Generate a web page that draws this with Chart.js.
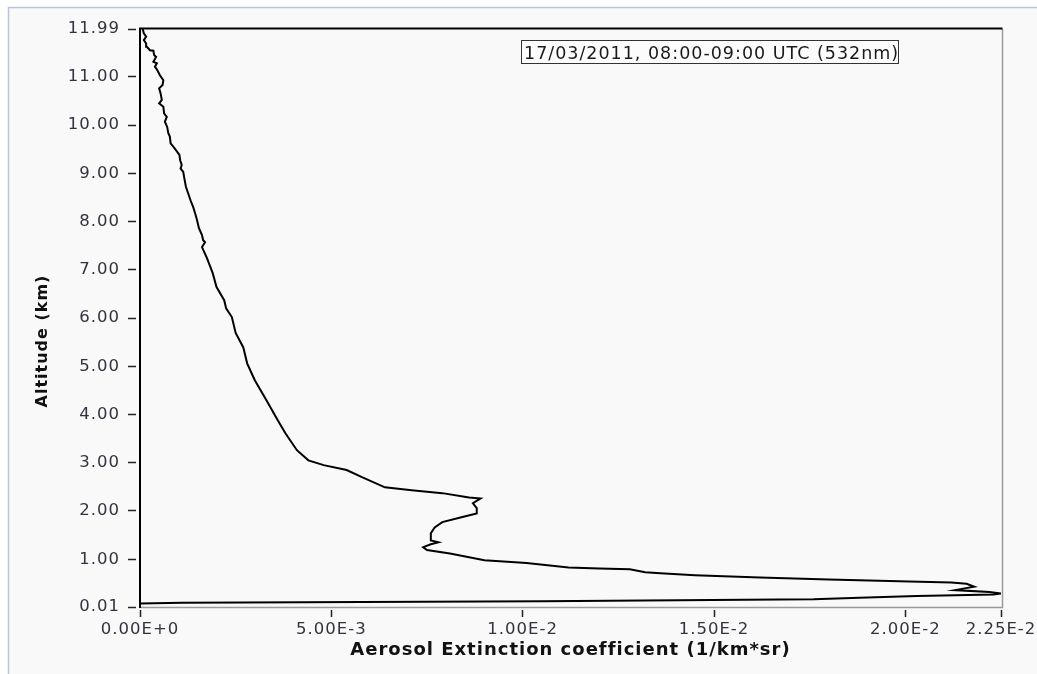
<!DOCTYPE html>
<html>
<head>
<meta charset="utf-8">
<script src="https://cdn.jsdelivr.net/npm/chart.js@4.4.1/dist/chart.umd.min.js"></script>
<style>
  html, body { margin: 0; padding: 0; background: #fff; }
  #wrap { width: 1037px; height: 674px; position: relative; }
</style>
</head>
<body>
<div id="wrap"><canvas id="myChart"></canvas></div>
<script>
// profile, bottom to top
const altitudeKm = [
  0.08, 0.10, 0.13, 0.17, 0.20, 0.24, 0.27, 0.29,
  0.32, 0.36, 0.43, 0.49, 0.52, 0.54, 0.58, 0.62, 0.67, 0.71, 0.73, 0.79, 0.81, 0.83, 0.92, 0.98,
  1.12, 1.19, 1.25, 1.31, 1.35, 1.39, 1.54, 1.66, 1.77, 1.87, 1.95,
  2.06, 2.16, 2.26, 2.28, 2.37, 2.43, 2.49, 2.70, 2.85, 2.95,
  3.05, 3.26, 3.61, 3.88, 4.30, 4.71, 5.06, 5.39, 5.69,
  6.02, 6.20, 6.37, 6.64, 6.93, 7.24, 7.47, 7.57, 7.61, 7.72, 7.86,
  8.03, 8.17, 8.30, 8.44, 8.58, 8.72, 8.89, 9.03, 9.10, 9.17, 9.27, 9.38, 9.48, 9.55, 9.62, 9.76, 9.83, 9.96,
  10.07, 10.17, 10.24, 10.38, 10.45, 10.52, 10.65, 10.76, 10.83, 10.93,
  11.03, 11.14, 11.21, 11.28, 11.31, 11.41, 11.45, 11.54, 11.55, 11.62, 11.69, 11.76, 11.83, 11.90, 11.99
];
const extinction = [
  0.0000, 0.0011, 0.0105, 0.0176, 0.0188, 0.0203, 0.0223, 0.0225,
  0.0222, 0.0213, 0.0218, 0.0216, 0.0212, 0.0201, 0.0180, 0.0162, 0.0145, 0.0136, 0.0132, 0.0128, 0.0120, 0.0112, 0.0101, 0.0090,
  0.0081, 0.0075, 0.0074, 0.0076, 0.0078, 0.0076, 0.0076, 0.0077, 0.0079, 0.0084, 0.0088,
  0.0088, 0.0087, 0.0089, 0.0086, 0.0079, 0.0071, 0.0064, 0.0058, 0.0054, 0.0048,
  0.0044, 0.0041, 0.0038, 0.0036, 0.0033, 0.0030, 0.0028, 0.0027, 0.0025,
  0.0024, 0.00225, 0.0022, 0.0020, 0.0019, 0.00175, 0.00162, 0.00170, 0.00165, 0.00162, 0.00154,
  0.00149, 0.00144, 0.00139, 0.00132, 0.00126, 0.00120, 0.00116, 0.00113, 0.00106, 0.00109, 0.00105, 0.00103, 0.00094, 0.00087, 0.00080, 0.00078, 0.00074, 0.00071,
  0.00065, 0.00070, 0.00063, 0.00061, 0.00050, 0.00057, 0.00054, 0.00050, 0.00059, 0.00061,
  0.00052, 0.00045, 0.00039, 0.00044, 0.00035, 0.00042, 0.00037, 0.00035, 0.00026, 0.00018, 0.00016, 0.00010, 0.00016, 0.00010, 0.00007
];

const xTickValues = [0, 0.005, 0.01, 0.015, 0.02, 0.0225];
const xTickLabels = ['0.00E+0', '5.00E-3', '1.00E-2', '1.50E-2', '2.00E-2', '2.25E-2'];
const yTickValues = [0.01, 1, 2, 3, 4, 5, 6, 7, 8, 9, 10, 11, 11.99];
const yTickLabels = ['0.01', '1.00', '2.00', '3.00', '4.00', '5.00', '6.00', '7.00', '8.00', '9.00', '10.00', '11.00', '11.99'];

const boxText = '17/03/2011, 08:00-09:00 UTC (532nm)';

const points = altitudeKm.map((a, i) => ({ x: extinction[i], y: a }));

const tickFont = { family: 'DejaVu Sans', size: 16.5 };
const tickColor = '#33333f';

const framePlugin = {
    id: 'frame',
    beforeDraw(chart) {
        const ctx = chart.ctx;
        ctx.save();
        ctx.fillStyle = '#ffffff';
        ctx.fillRect(0, 0, chart.width, chart.height);
        ctx.fillStyle = '#f9f9f9';
        ctx.fillRect(8, 7, chart.width - 8, chart.height - 7);
        ctx.strokeStyle = '#b9c3d6';
        ctx.lineWidth = 1.5;
        ctx.beginPath();
        ctx.moveTo(8.5, chart.height);
        ctx.lineTo(8.5, 7.5);
        ctx.lineTo(chart.width, 7.5);
        ctx.stroke();
        ctx.restore();
        ctx.letterSpacing = '1px';
    },
    afterDraw(chart) {
        const ctx = chart.ctx;
        const a = chart.chartArea;
        ctx.save();
        // right and bottom edges gray
        ctx.strokeStyle = '#9a9a9a';
        ctx.lineWidth = 1.5;
        ctx.beginPath();
        ctx.moveTo(a.left, a.bottom + 0.5);
        ctx.lineTo(a.right + 1.5, a.bottom + 0.5);
        ctx.lineTo(a.right + 1.5, a.top);
        ctx.stroke();
        // top and left edges black
        ctx.strokeStyle = '#000';
        ctx.lineWidth = 2;
        ctx.beginPath();
        ctx.moveTo(a.right + 1.5, a.top - 0.5);
        ctx.lineTo(a.left, a.top - 0.5);
        ctx.lineTo(a.left, a.bottom + 1);
        ctx.stroke();

        // annotation box
        ctx.fillStyle = '#fcfcfc';
        ctx.fillRect(521, 40, 378, 23);
        ctx.strokeStyle = '#333';
        ctx.lineWidth = 1;
        ctx.strokeRect(521.5, 40.5, 377, 23);
        ctx.font = '17.5px "DejaVu Sans"';
        ctx.fillStyle = '#1a1a1a';
        ctx.textBaseline = 'alphabetic';
        ctx.textAlign = 'left';
        ctx.fillText(boxText, 524, 59);
        ctx.restore();
        ctx.letterSpacing = '0px';
    }
};

const ctx = document.getElementById('myChart').getContext('2d');
const myChart = new Chart(ctx, {
    type: 'scatter',
    data: {
        datasets: [{
            data: points,
            showLine: true,
            borderColor: '#000',
            borderWidth: 2,
            pointRadius: 0,
            tension: 0
        }]
    },
    options: {
        animation: false,
        responsive: true,
        maintainAspectRatio: false,
        layout: {
            padding: { top: 29, left: 8, right: 36, bottom: 0 }
        },
        plugins: {
            legend: { display: false },
            tooltip: { enabled: false }
        },
        scales: {
            x: {
                type: 'linear',
                min: 0,
                max: 0.0225,
                afterBuildTicks: s => { s.ticks = xTickValues.map(v => ({ value: v })); },
                afterFit: s => { s.height = 67; },
                border: { display: false },
                grid: {
                    drawOnChartArea: false,
                    tickLength: 10,
                    tickColor: '#222',
                    tickWidth: 1.5,
                    tickBorderDash: [0, 3, 7]
                },
                ticks: {
                    autoSkip: false,
                    maxRotation: 0,
                    padding: 3,
                    font: tickFont,
                    color: tickColor,
                    callback: v => xTickLabels[xTickValues.indexOf(v)]
                },
                title: {
                    display: true,
                    text: 'Aerosol Extinction coefficient (1/km*sr)',
                    color: '#111',
                    font: { family: 'DejaVu Sans', size: 18, weight: 'bold' },
                    padding: { top: 0, bottom: 13 }
                }
            },
            y: {
                type: 'linear',
                min: 0.01,
                max: 11.99,
                afterBuildTicks: s => { s.ticks = yTickValues.map(v => ({ value: v })); },
                afterFit: s => { s.width = 132; },
                border: { display: false },
                grid: {
                    drawOnChartArea: false,
                    tickLength: 12,
                    tickColor: '#222',
                    tickWidth: 1.5,
                    tickBorderDash: [8, 4]
                },
                ticks: {
                    autoSkip: false,
                    padding: 8,
                    font: tickFont,
                    color: tickColor,
                    callback: v => yTickLabels[yTickValues.indexOf(v)]
                },
                title: {
                    display: true,
                    text: 'Altitude (km)       ',
                    color: '#111',
                    font: { family: 'DejaVu Sans', size: 16, weight: 'bold' },
                    padding: { top: 25, bottom: 0 }
                }
            }
        }
    },
    plugins: [framePlugin]
});
</script>
</body>
</html>
